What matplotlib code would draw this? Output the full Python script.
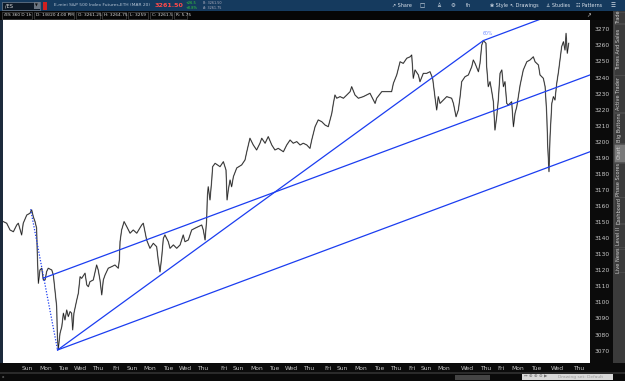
import numpy as np
import matplotlib.pyplot as plt
from matplotlib.patches import Rectangle

# price trace (x in trading days from chart start, y in index points)
days = [0.02, 0.21, 0.40, 0.59, 0.78, 0.87, 1.06, 1.15, 1.35, 1.53, 1.63, 1.72, 1.82, 1.91, 1.95,
        2.01, 2.10, 2.20, 2.29, 2.39, 2.48, 2.57, 2.77, 2.86, 2.95, 3.05, 3.09, 3.14, 3.24, 3.34,
        3.43, 3.52, 3.62, 3.71, 3.81, 3.90, 3.96, 4.03, 4.19, 4.28, 4.38, 4.47, 4.66, 4.76, 4.85,
        4.94, 5.13, 5.32, 5.41, 5.51, 5.61, 5.70, 5.80, 5.98, 6.18, 6.36, 6.55, 6.61, 6.65, 6.74,
        6.88, 7.03, 7.22, 7.40, 7.60, 7.88, 7.97, 8.16, 8.35, 8.54, 8.73, 8.82, 8.92, 9.02, 9.11,
        9.20, 9.39, 9.49, 9.68, 9.87, 10.06, 10.24, 10.34, 10.53, 10.72, 10.91, 11.10, 11.29, 11.38, 11.48,
        11.57, 11.61, 11.66, 11.76, 11.86, 11.91, 12.05, 12.33, 12.52, 12.67, 12.73, 12.80, 12.90, 12.99, 13.09,
        13.28, 13.56, 13.75, 13.85, 14.03, 14.22, 14.41, 14.60, 14.70, 14.89, 15.07, 15.27, 15.45, 15.64, 15.93,
        16.12, 16.31, 16.49, 16.69, 16.88, 17.06, 17.26, 17.44, 17.54, 17.73, 17.91, 18.11, 18.30, 18.48, 18.58,
        18.68, 18.77, 18.86, 18.96, 19.15, 19.34, 19.53, 19.72, 19.81, 20.00, 20.19, 20.47, 20.85, 21.04, 21.14,
        21.23, 21.52, 21.80, 22.08, 22.18, 22.37, 22.56, 22.74, 22.94, 23.13, 23.22, 23.31, 23.41, 23.60, 23.69,
        23.88, 24.07, 24.26, 24.41, 24.55, 24.64, 24.73, 24.83, 25.02, 25.21, 25.49, 25.59, 25.74, 25.87, 25.97,
        26.06, 26.25, 26.44, 26.63, 26.72, 26.82, 27.01, 27.10, 27.20, 27.29, 27.44, 27.48, 27.57, 27.67, 27.77,
        27.86, 27.95, 28.05, 28.14, 28.24, 28.34, 28.43, 28.52, 28.62, 28.71, 28.90, 29.00, 29.09, 29.19, 29.38,
        29.56, 29.76, 29.94, 30.13, 30.23, 30.42, 30.51, 30.70, 30.80, 30.89, 30.95, 31.02, 31.08, 31.18, 31.27,
        31.36, 31.46, 31.56, 31.74, 31.84, 31.93, 31.99, 32.06, 32.14]
prices = [3150.3, 3149.3, 3145.1, 3144.0, 3148.2, 3149.3, 3142.0, 3149.3, 3154.4, 3155.5, 3157.6, 3153.4, 3150.3, 3146.2, 3129.5,
          3111.9, 3120.2, 3121.3, 3114.0, 3114.0, 3119.2, 3121.3, 3120.2, 3117.1, 3107.8, 3097.4, 3078.7, 3071.0, 3080.8, 3084.9,
          3093.3, 3089.1, 3095.3, 3091.2, 3094.3, 3093.3, 3082.9, 3093.3, 3101.5, 3105.7, 3116.0, 3115.0, 3118.2, 3110.9, 3109.8,
          3112.9, 3114.0, 3123.3, 3120.2, 3114.0, 3104.7, 3114.0, 3117.1, 3121.3, 3122.3, 3123.3, 3121.3, 3126.4, 3137.8, 3145.1,
          3150.3, 3147.2, 3143.1, 3145.1, 3143.1, 3148.2, 3149.3, 3138.9, 3133.7, 3136.8, 3134.7, 3126.4, 3119.0, 3128.5, 3139.9,
          3142.0, 3137.8, 3133.7, 3135.8, 3133.7, 3135.8, 3142.0, 3137.8, 3138.9, 3145.1, 3146.2, 3147.2, 3148.2, 3145.1, 3138.9,
          3151.3, 3165.8, 3172.0, 3163.8, 3176.2, 3184.5, 3186.6, 3184.5, 3187.6, 3182.4, 3163.8, 3170.0, 3176.2, 3172.0, 3178.3,
          3183.7, 3185.6, 3188.7, 3193.8, 3202.2, 3198.0, 3194.9, 3199.1, 3202.2, 3199.1, 3203.2, 3198.0, 3194.9, 3195.9, 3193.8,
          3198.0, 3201.1, 3199.1, 3200.1, 3198.0, 3199.1, 3198.0, 3195.9, 3201.1, 3209.4, 3213.6, 3212.5, 3210.4, 3209.4, 3213.6,
          3217.7, 3223.9, 3229.1, 3227.1, 3228.1, 3227.1, 3229.1, 3231.2, 3234.3, 3229.1, 3227.1, 3228.1, 3230.2, 3226.0, 3223.9,
          3227.1, 3231.2, 3231.2, 3231.2, 3236.4, 3241.6, 3249.8, 3248.8, 3252.0, 3252.9, 3254.0, 3239.5, 3244.7, 3241.6, 3237.4,
          3242.6, 3242.6, 3243.6, 3239.5, 3227.1, 3219.8, 3228.1, 3223.9, 3226.0, 3228.1, 3227.1, 3223.9, 3215.6, 3219.8, 3228.1,
          3237.4, 3240.5, 3241.6, 3246.7, 3250.9, 3248.8, 3243.6, 3248.8, 3260.2, 3263.0, 3261.3, 3246.7, 3234.3, 3237.4, 3231.2,
          3224.9, 3207.3, 3215.6, 3226.0, 3242.6, 3244.7, 3234.3, 3237.4, 3223.9, 3222.9, 3224.9, 3209.4, 3217.7, 3221.8, 3235.3,
          3244.7, 3249.8, 3250.9, 3252.9, 3249.8, 3247.8, 3241.6, 3239.5, 3234.3, 3217.7, 3196.9, 3181.4, 3203.2, 3223.9, 3228.1,
          3226.0, 3236.4, 3243.6, 3259.2, 3262.3, 3257.1, 3267.5, 3255.1, 3261.3]

# drawings in data units
pivot_high = (1.57, 3158.0)
pivot_low = (3.10, 3070.4)
fan_top = (27.29, 3263.0)
fan_top_ext = (33.35, 3287.9)
mid_line = (2.29, 3115.1, 33.35, 3241.6)
low_line_end = (33.35, 3193.8)

tick_days = [1.40, 2.43, 3.43, 4.39, 5.38, 6.44, 7.35, 8.35, 9.36, 10.34, 11.36, 12.54, 13.37, 14.41,
             15.41, 16.38, 17.39, 18.48, 19.30, 20.34, 21.35, 22.31, 23.24, 24.03, 25.06, 26.38, 27.43,
             28.30, 29.24, 30.32, 31.52, 32.69]
tick_names = ["Sun", "Mon", "Tue", "Wed", "Thu", "Fri", "Sun", "Mon", "Tue", "Wed", "Thu", "Fri", "Sun", "Mon",
              "Tue", "Wed", "Thu", "Fri", "Sun", "Mon", "Tue", "Thu", "Fri", "Sun", "Mon", "Wed", "Thu",
              "Fri", "Mon", "Tue", "Wed", "Thu"]
price_ticks = list(range(3070, 3271, 10))

tabs = ["Trade", "Times And Sales", "Active Trader", "Big Buttons", "Chart",
        "Phase Scores", "Dashboard", "Level II", "Live News"]
tab_spans = [(11, 23), (23, 75), (75, 112), (112, 143), (143, 162), (162, 197), (197, 224), (224, 248), (248, 272)]

W, H = 625, 381
BLUE = '#1b3df0'


def box(x0, y0, x1, y1):
    return [x0 / W, 1 - y1 / H, (x1 - x0) / W, (y1 - y0) / H]


def rect(x0, y0, x1, y1, fc, ec='none', lw=0):
    fig.add_artist(Rectangle((x0 / W, 1 - y1 / H), (x1 - x0) / W, (y1 - y0) / H,
                             transform=fig.transFigure, facecolor=fc, edgecolor=ec, linewidth=lw))


def label(x, y, s, size=4.2, color='#cfcfcf', **kw):
    fig.text(x / W, 1 - y / H, s, fontsize=size, color=color, va='center', **kw)


fig = plt.figure(figsize=(6.25, 3.81), dpi=100, facecolor='#0b0b0b')

# chart area
ax = fig.add_axes(box(3, 20, 590, 363))
ax.set_facecolor('white')
ax.plot(days, prices, color='#a0a0a0', lw=1.0)
ax.plot(days, prices, color='#151515', lw=0.45)

ax.plot([pivot_high[0], pivot_low[0]], [pivot_high[1], pivot_low[1]], color=BLUE, lw=0.9, ls=(0, (1, 1.3)))
ax.plot([pivot_low[0], fan_top[0], fan_top_ext[0]], [pivot_low[1], fan_top[1], fan_top_ext[1]], color=BLUE, lw=0.9)
ax.plot([mid_line[0], mid_line[2]], [mid_line[1], mid_line[3]], color=BLUE, lw=0.9)
ax.plot([pivot_low[0], low_line_end[0]], [pivot_low[1], low_line_end[1]], color=BLUE, lw=0.9)
ax.text(fan_top[0] - 0.05, fan_top[1] + 3.5, "60%", fontsize=3.3, color='#6f8cff')

ax.set_xlim(0, 33.35)
ax.set_ylim(3062.3, 3275.8)
ax.yaxis.tick_right()
ax.set_yticks(price_ticks)
ax.set_yticklabels([str(p) for p in price_ticks])
ax.set_xticks(tick_days)
ax.set_xticklabels(tick_names)
ax.tick_params(axis='both', length=0, labelsize=4.3, colors='#c8c8c8')
ax.tick_params(axis='y', pad=3)
ax.tick_params(axis='x', pad=2.5)
for s in ax.spines.values():
    s.set_visible(False)

# left strip
rect(0, 20, 3, 363, '#1d2a3c')

# top header bar
rect(0, 0, 625, 11, '#153a5e')
rect(2, 1.5, 40, 9.5, '#0e1a28', '#8a98a8', 0.4)
label(5, 5.5, "/ES", 3.6, '#e0e0e0')
rect(34, 2, 40, 9, '#6a7480')
label(35, 5.5, "\u25bc", 2.6, '#101010')
rect(43, 1.5, 47, 9.5, '#d02020')
label(54, 5.5, "E-mini S&P 500 Index Futures,ETH (MAR 20)", 3.2, '#b8c6d6')
label(155, 5.5, "3261.50", 4.6, '#ff4a4a', fontweight='bold')
label(186, 3.3, "+26.5", 2.5, '#38d838')
label(186, 7.7, "+0.8%", 2.5, '#38d838')
label(203, 3.3, "B: 3261.50", 2.4, '#b0b0c0')
label(203, 7.7, "A: 3261.75", 2.4, '#b0b0c0')
label(392, 5.5, "\u2197 Share", 3.5, '#d8e0ea')
label(420, 5.5, "\u25a1", 4, '#d8e0ea')
label(436, 5.5, "\u2659", 4, '#d8e0ea')
label(451, 5.5, "\u2699", 4, '#d8e0ea')
label(466, 5.5, "th", 3.5, '#d8e0ea')
label(490, 5.5, "\u2740 Style", 3.5, '#d8e0ea')
label(510, 5.5, "\u2196 Drawings", 3.5, '#d8e0ea')
label(546, 5.5, "\u2659 Studies", 3.5, '#d8e0ea')
label(576, 5.5, "\u2637 Patterns", 3.5, '#d8e0ea')
label(611, 5.5, "\u2630", 4, '#d8e0ea')

# info bar
rect(0, 11, 613, 20, '#060606')
info = [(2, 32, "/ES 360 D 1h"), (34, 74, "D: 1/8/20 4:00 PM"), (76, 100, "O: 3261.25"),
        (102, 126, "H: 3264.75"), (128, 148, "L: 3259"), (150, 172, "C: 3261.5"), (174, 187, "R: 5.75")]
for x0, x1, s in info:
    rect(x0, 12, x1, 19, '#060606', '#5a5a5a', 0.4)
    label(x0 + 1.5, 15.5, s, 3.1, '#dcdcdc')
label(586, 15.5, "\u2197", 4, '#d0d0d0')

# right tab strip
rect(613, 11, 625, 363, '#3b3b3b')
for name, (y0, y1) in zip(tabs, tab_spans):
    fc = '#7a7a7a' if name == "Chart" else '#3b3b3b'
    rect(613.5, y0 + 0.5, 624.5, y1 - 0.5, fc, '#555555', 0.4)
    fig.text(619 / W, 1 - (y0 + y1) / 2 / H, name, fontsize=3.6, color='#d2d2d2',
             rotation=90, ha='center', va='center')

# bottom bars
rect(0, 372, 625, 374, '#2a2a2a')
rect(0, 374, 625, 381, '#0a0a0a')
rect(455, 374.5, 490, 380, '#444444')
rect(522, 374, 613, 380, '#d8d8d8')
label(524, 377, "\u2194 \u2295 \u2295 \u2296 \u25b6", 3.2, '#707070')
label(558, 377, "Drawing set: Default", 3.2, '#9a9a9a')
label(2, 377, "x", 3, '#9a9a9a')

fig.savefig('out.png', dpi=100, facecolor=fig.get_facecolor())
